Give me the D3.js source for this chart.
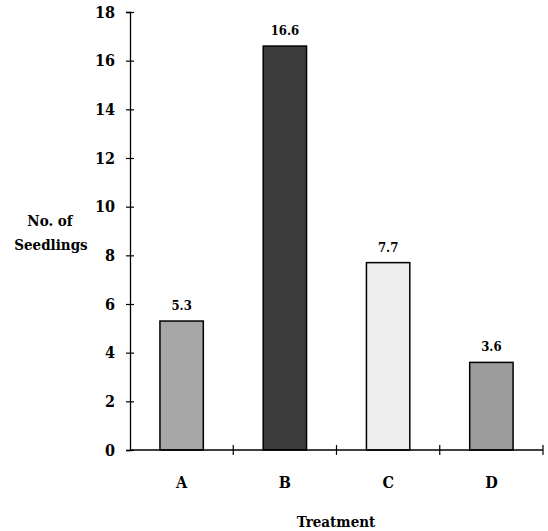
<!DOCTYPE html>
<html>
<head>
<meta charset="utf-8">
<script src="https://cdn.jsdelivr.net/npm/d3@7"></script>
<style>
  body { margin: 0; background: #fff; }
  svg text { font-family: "DejaVu Serif Condensed", "DejaVu Serif"; font-weight: bold; fill: #000; }
</style>
</head>
<body>
<div id="chart"></div>
<script>
var treatments = ["A", "B", "C", "D"];
var seedlings = [5.3, 16.6, 7.7, 3.6];
var barColors = ["#a6a6a6", "#3c3c3c", "#eeeeee", "#9c9c9c"];
var yTicks = [0, 2, 4, 6, 8, 10, 12, 14, 16, 18];

var serif = '"DejaVu Serif Condensed", "DejaVu Serif"';

var W = 548, H = 531;
var svg = d3.select("#chart").append("svg")
    .attr("width", W)
    .attr("height", H)
    .attr("font-family", serif);

var x = d3.scaleBand()
    .domain(treatments)
    .range([130, 543])
    .paddingInner(0.58)
    .paddingOuter(0.29);

var y = d3.scaleLinear()
    .domain([0, 18])
    .range([450, 12]);

// bars
svg.selectAll("rect.bar")
    .data(treatments)
    .enter().append("rect")
    .attr("class", "bar")
    .attr("x", function (d) { return x(d); })
    .attr("y", function (d, i) { return y(seedlings[i]); })
    .attr("width", x.bandwidth())
    .attr("height", function (d, i) { return y(0) - y(seedlings[i]); })
    .attr("fill", function (d, i) { return barColors[i]; })
    .attr("stroke", "#000")
    .attr("stroke-width", 1.5);

// value labels
svg.selectAll("text.val")
    .data(treatments)
    .enter().append("text")
    .attr("class", "val")
    .attr("x", function (d) { return x(d) + x.bandwidth() / 2; })
    .attr("y", function (d, i) { return y(seedlings[i]) - 11; })
    .attr("text-anchor", "middle")
    .style("font-size", "13px")
    .text(function (d, i) { return seedlings[i].toFixed(1); });

// y axis
var yAxis = d3.axisLeft(y).tickValues(yTicks).tickSize(4).tickPadding(11);
var gy = svg.append("g").attr("transform", "translate(130,0)").call(yAxis);
gy.attr("font-family", serif);
gy.select(".domain").attr("stroke", "#000").attr("stroke-width", 1.3);
gy.selectAll(".tick line").attr("x2", 4).attr("x1", -4).attr("stroke-width", 1.2);
gy.selectAll(".tick text")
    .style("font-size", "16px")
    .style("font-weight", "bold");

// x axis: ticks at band boundaries
var bounds = treatments.map(function (d) { return x(d) - x.step() * x.paddingInner() / 2 + x.step(); });
var gx = svg.append("g");
gx.append("line")
    .attr("x1", 130).attr("x2", 543)
    .attr("y1", y(0)).attr("y2", y(0))
    .attr("stroke", "#000").attr("stroke-width", 1.3);
gx.selectAll("line.xt")
    .data(bounds)
    .enter().append("line")
    .attr("class", "xt")
    .attr("x1", function (d) { return d; }).attr("x2", function (d) { return d; })
    .attr("y1", y(0) - 5).attr("y2", y(0) + 5)
    .attr("stroke", "#000").attr("stroke-width", 1.2);
gx.selectAll("text.cat")
    .data(treatments)
    .enter().append("text")
    .attr("class", "cat")
    .attr("x", function (d) { return x(d) + x.bandwidth() / 2; })
    .attr("y", 488)
    .attr("text-anchor", "middle")
    .style("font-size", "16px")
    .text(function (d) { return d; });

// axis titles
svg.append("text")
    .attr("x", 336).attr("y", 527)
    .attr("text-anchor", "middle")
    .style("font-size", "15px")
    .text("Treatment");

var yt = svg.append("text")
    .attr("text-anchor", "middle")
    .style("font-size", "15px");
yt.append("tspan").attr("x", 50).attr("y", 226).text("No. of");
yt.append("tspan").attr("x", 51).attr("y", 250).text("Seedlings");
</script>
</body>
</html>
